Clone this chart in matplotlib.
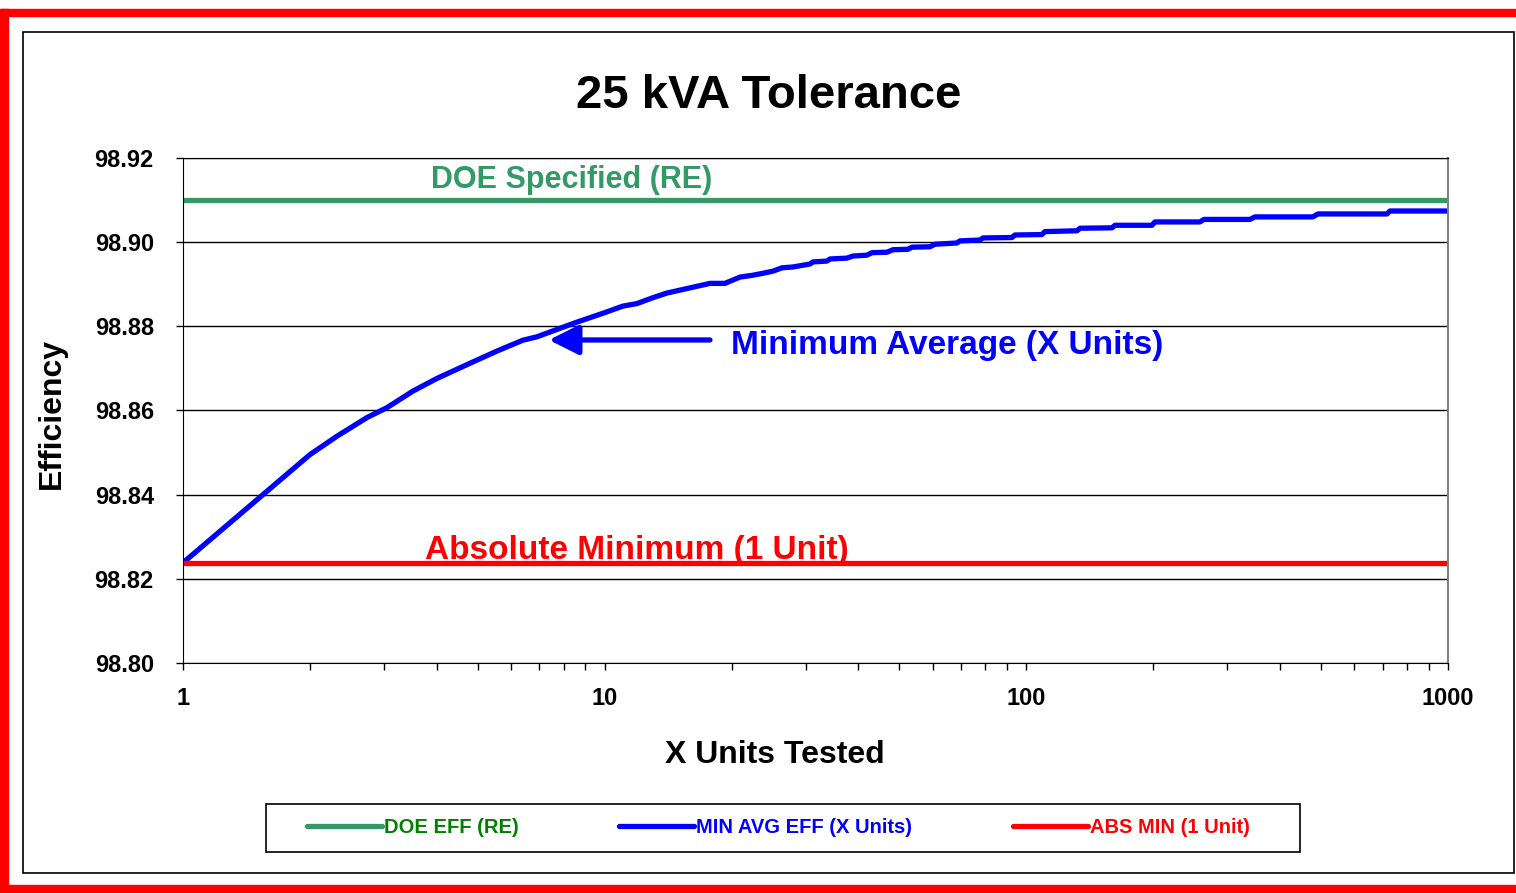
import matplotlib.pyplot as plt
from matplotlib.patches import Rectangle

plt.rcParams['font.family'] = ['Liberation Sans', 'DejaVu Sans']
plt.rcParams['font.weight'] = 'bold'

# Dados
x_units = [1, 2.0, 2.32, 2.73, 3.05, 3.51, 4.0, 4.79, 5.55, 6.40,
           6.91, 7.54, 8.60, 9.91, 11.05, 11.93, 13.02, 14.05, 17.78, 19.29,
           20.94, 22.36, 23.74, 25.07, 26.33, 27.97, 30.69, 31.19, 33.68, 34.22,
           37.56, 38.81, 41.89, 43.05, 46.72, 48.28, 52.41, 53.57, 59.09, 60.73,
           68.47, 69.60, 77.65, 78.93, 92.5, 94.0, 108.9, 110.7, 131.9, 134.1,
           159.7, 162.3, 198.6, 201.9, 258.1, 263.8, 339.2, 348.6, 478.5, 491.7,
           716.9, 728.7, 1000]
min_avg = [98.8238, 98.8495, 98.8539, 98.8583, 98.8607, 98.8646, 98.8676, 98.8712, 98.8741, 98.8767,
           98.8775, 98.8789, 98.8810, 98.8831, 98.8848, 98.8854, 98.8868, 98.8879, 98.8902, 98.8902,
           98.8917, 98.8921, 98.8926, 98.8931, 98.8939, 98.8941, 98.8948, 98.8953, 98.8955, 98.8960,
           98.8962, 98.8967, 98.8969, 98.8975, 98.8976, 98.8982, 98.8983, 98.8988, 98.8989, 98.8995,
           98.8998, 98.9003, 98.9005, 98.9010, 98.9011, 98.9017, 98.9018, 98.9025, 98.9027, 98.9033,
           98.9034, 98.9040, 98.9040, 98.9048, 98.9048, 98.9054, 98.9054, 98.9060, 98.9060, 98.9067,
           98.9067, 98.9074, 98.9074]
x_range = [1, 1000]
doe_eff = 98.91
abs_min = 98.8238

x_ticks = [1, 10, 100, 1000]
x_tick_labels = ['1', '10', '100', '1000']
y_ticks = [98.80, 98.82, 98.84, 98.86, 98.88, 98.90, 98.92]
y_tick_labels = ['98.80', '98.82', '98.84', '98.86', '98.88', '98.90', '98.92']

sea_green = '#339966'

fig = plt.figure(figsize=(15.16, 8.93), dpi=100)
ax = fig.add_axes([0.1207, 0.2576, 0.8344, 0.5655])

# Molduras (vermelha externa, preta interna e caixa da legenda)
W, H = 1516, 893
fig.patches.append(Rectangle((0, 1 - 16 / H), 1, 7 / H, transform=fig.transFigure,
                             color='red', zorder=0))
fig.patches.append(Rectangle((0, 0), 8 / W, 1 - 9 / H, transform=fig.transFigure,
                             color='red', zorder=0))
fig.patches.append(Rectangle((0, 0), 1, 8 / H, transform=fig.transFigure,
                             color='red', zorder=0))
fig.patches.append(Rectangle((23 / W, 1 - 873 / H), (1514 - 23) / W, (873 - 32) / H,
                             transform=fig.transFigure, fill=False, edgecolor='black',
                             linewidth=1.2, zorder=0))
fig.patches.append(Rectangle((266 / W, 1 - 852 / H), (1300 - 266) / W, (852 - 804) / H,
                             transform=fig.transFigure, fill=False, edgecolor='black',
                             linewidth=1.2, zorder=0))

# Linhas
ax.plot(x_range, [doe_eff, doe_eff], color=sea_green, lw=3.8, label='DOE EFF (RE)',
        solid_capstyle='round')
ax.plot(x_units, min_avg, color='blue', lw=3.8, label='MIN AVG EFF (X Units)',
        solid_capstyle='round', solid_joinstyle='round')
ax.plot(x_range, [abs_min, abs_min], color='red', lw=3.8, label='ABS MIN (1 Unit)',
        solid_capstyle='round')

ax.set_xscale('log')
ax.set_xlim(1, 1000)
ax.set_ylim(98.80, 98.92)
ax.set_xticks(x_ticks)
ax.set_xticklabels(x_tick_labels)
ax.set_yticks(y_ticks)
ax.set_yticklabels(y_tick_labels)
ax.tick_params(axis='both', which='both', direction='out', length=5, width=1,
               labelsize=17)
ax.tick_params(axis='x', pad=12)
ax.tick_params(axis='y', pad=16)
ax.grid(True, axis='y', color='black', lw=1)
ax.set_axisbelow(True)
ax.spines['right'].set_color('#808080')
ax.spines['right'].set_linewidth(1.5)

# Textos sobre as linhas
ax.text(0.3075, 0.956, 'DOE Specified (RE)', transform=ax.transAxes, color=sea_green,
        fontsize=22, ha='center', va='center')
ax.text(0.3589, 0.223, 'Absolute Minimum (1 Unit)', transform=ax.transAxes, color='red',
        fontsize=24, ha='center', va='center')
ax.text(0.4332, 0.628, 'Minimum Average (X Units)', transform=ax.transAxes, color='blue',
        fontsize=24, ha='left', va='center')
ax.annotate('', xy=(0.2893, 0.6396), xytext=(0.4166, 0.6396),
            xycoords='axes fraction', textcoords='axes fraction',
            arrowprops=dict(arrowstyle='-|>,head_length=1.0,head_width=0.5',
                            mutation_scale=18, lw=3.8, color='blue',
                            shrinkA=0, shrinkB=0))

# Título e rótulos
fig.text(0.5073, 0.893, '25 kVA Tolerance', fontsize=34, ha='center', va='center')
fig.text(0.0343, 0.5375, 'Efficiency', fontsize=23, rotation=90, ha='center', va='center')
fig.text(0.5112, 0.155, 'X Units Tested', fontsize=23, ha='center', va='center')

# Legenda
leg = fig.legend(loc='center', bbox_to_anchor=(0.5135, 0.0728), ncol=3, fontsize=14.5,
                 handlelength=3.73, handletextpad=0.1, columnspacing=4.97,
                 frameon=False, borderaxespad=0)
for txt, c in zip(leg.get_texts(), ['#008000', 'blue', 'red']):
    txt.set_color(c)

plt.savefig('out.png', dpi=100)
